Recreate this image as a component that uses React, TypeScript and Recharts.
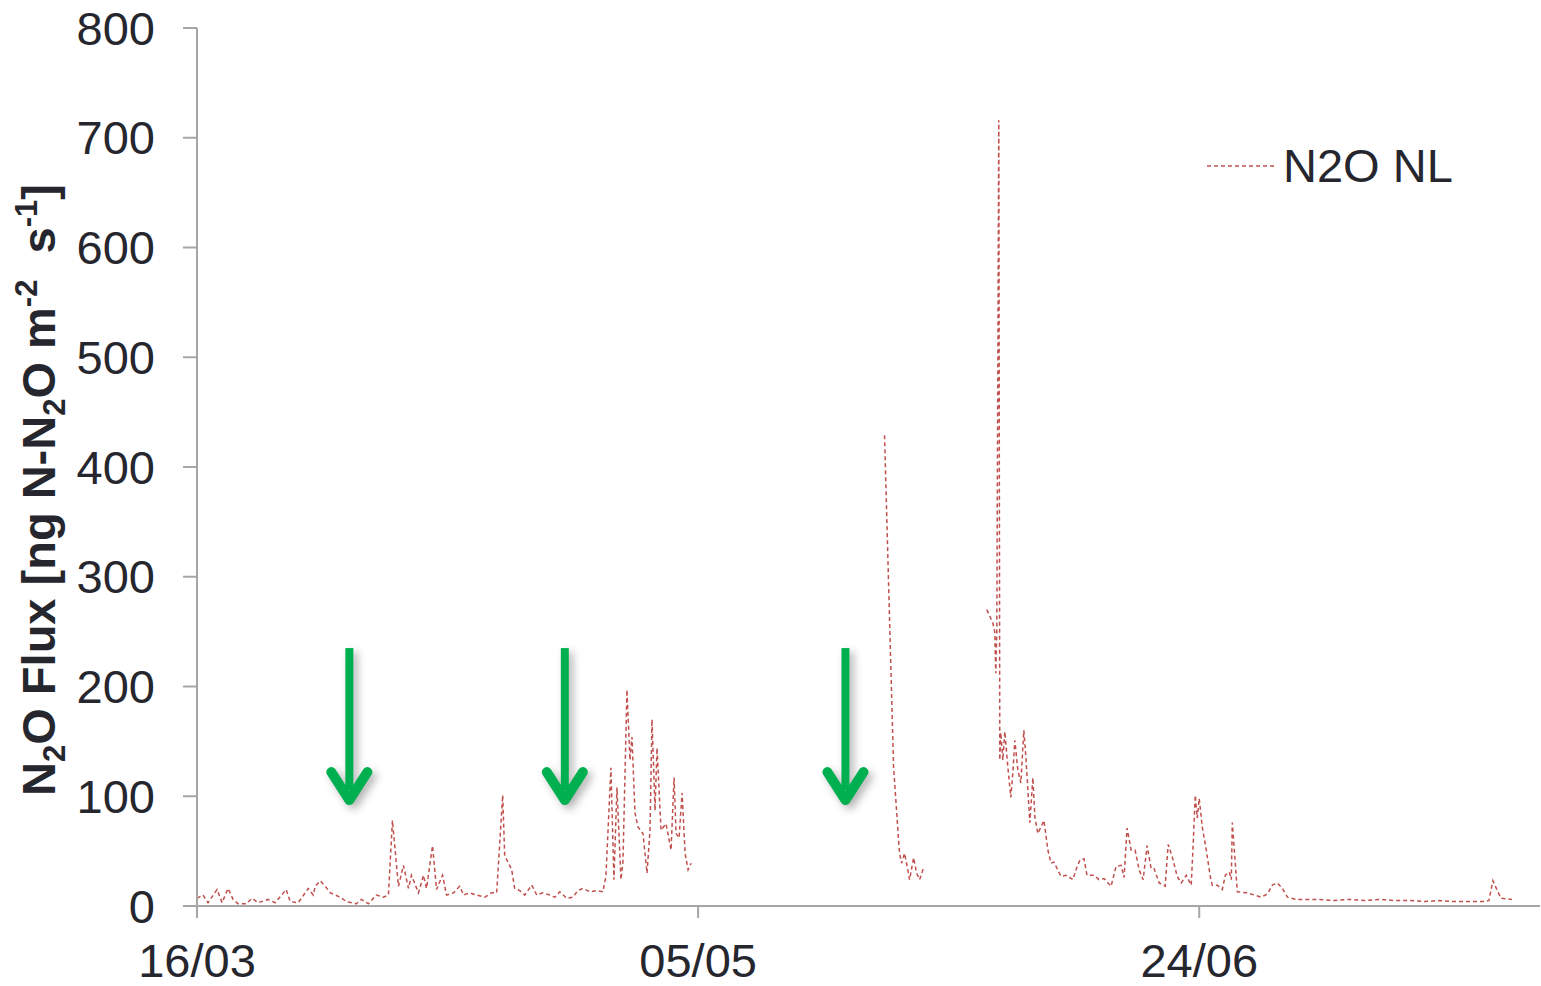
import { LineChart, Line, XAxis, YAxis, Legend, ReferenceDot } from "recharts";

// days after 16/03
const days = [
  0, 0.6, 1.1, 2.0, 2.5, 3.1, 3.6, 4.1, 4.9, 5.5, 6.1, 7.1, 7.8, 8.9, 9.3, 10.1, 11.1, 11.6, 11.8, 12.3,
  12.8, 13.3, 14.3, 14.9, 15.9, 16.4, 17.1, 17.9, 18.6, 19.1, 19.5, 20.1, 20.6, 21.1, 21.4, 22.1, 22.6, 22.9,
  23.5, 23.9, 24.5, 24.9, 25.6, 26.2, 26.6, 27.2, 27.9, 28.7, 29.4, 29.9, 30.5, 30.7, 31.4, 31.7, 32.2, 32.7,
  33.4, 33.9, 34.5, 35.2, 35.7, 36.2, 36.9, 37.5, 38.0, 38.5, 39.2, 39.9, 40.5, 40.8, 41.3, 41.6, 41.9, 42.3,
  42.5, 42.9, 43.2, 43.4, 43.7, 44.0, 44.5, 44.9, 45.2, 45.4, 45.7, 45.9, 46.3, 46.8, 47.3, 47.6, 47.8, 48.1,
  48.4, 48.7, 49.0, 49.3,
  59,
  68.6, 69.5, 70.0, 70.1, 70.3, 70.6, 70.9, 71.1, 71.5, 71.8, 72.1, 72.5,
  75,
  78.8, 79.4, 79.6, 79.7, 79.8, 80.0, 80.1, 80.2, 80.4, 80.6, 80.9, 81.2, 81.4, 81.6, 81.9, 82.2, 82.5, 82.7,
  83.1, 83.4, 83.6, 83.9, 84.5, 84.9, 85.2, 85.5, 86.2, 86.7, 87.4, 87.7, 88.1, 88.5, 88.8, 89.5, 90.0, 90.5,
  91.2, 91.7, 92.2, 92.5, 92.8, 93.2, 93.6, 94.0, 94.4, 94.8, 95.2, 95.5, 96.0, 96.6, 96.9, 97.3, 97.8, 98.2,
  98.7, 99.2, 99.4, 99.6, 99.8, 100.0, 100.3, 100.7, 101.1, 101.3, 101.8, 102.3, 102.6, 103.0, 103.2, 103.3,
  103.5, 103.8, 104.7, 105.5, 106.2, 106.8, 107.3, 107.8, 108.3, 108.8, 109.7, 110.5, 112, 113.5, 115, 116.5,
  118, 119.5, 121, 122.5, 124, 125.5, 127, 128.5, 128.9, 129.3, 129.6, 130.1, 131.2,
];

const flux = [
  7, 10, 3, 15, 3, 16, 6, 2, 2, 7, 3, 6, 3, 15, 4, 3, 16, 10, 18, 23,
  18, 12, 8, 4, 2, 6, 2, 10, 8, 10, 78, 18, 37, 16, 28, 12, 28, 16,
  55, 15, 28, 10, 12, 18, 10, 12, 10, 8, 12, 12, 101, 46, 33, 16, 14, 10,
  19, 10, 12, 10, 8, 13, 7, 8, 14, 16, 13, 14, 13, 27, 126, 24, 108, 24,
  40, 197, 133, 154, 85, 72, 66, 30, 69, 170, 87, 144, 69, 75, 51, 117, 66, 62,
  103, 48, 33, 39,
  null,
  429, 127, 60, 48, 39, 48, 34, 24, 44, 30, 24, 35,
  null,
  270, 258, 250, 212, 250, 716, 133, 158, 133, 159, 127, 99, 121, 151, 124, 112, 160, 136,
  76, 117, 81, 66, 78, 51, 39, 40, 27, 28, 24, 33, 42, 43, 28, 28, 24, 25,
  18, 36, 37, 26, 71, 51, 51, 33, 24, 55, 34, 34, 21, 18, 56, 45, 27, 21,
  28, 19, 57, 101, 80, 98, 72, 51, 27, 19, 19, 15, 28, 31, 24, 76,
  51, 13, 12, 10, 8, 11, 19, 21, 16, 8, 6, 6, 6, 5, 6, 5,
  6, 5, 5, 4, 5, 4, 4, 4, 5, 23, 17, 7, 6,
];

const xTickDays = [0, 50, 100];
const xTickLabels = ["16/03", "05/05", "24/06"];
const yTicks = [0, 100, 200, 300, 400, 500, 600, 700, 800];

// fertilisation events (arrows)
const arrowDays = [15.2, 36.7, 64.7];
const arrowTop = 235;

const data = days.map((d, i) => ({ day: d, flux: flux[i] }));

const AXIS = "#a6a6a6";
const TEXT = "#26262e";
const LINE = "#c0504d";
const FONT = "'Liberation Sans', Arial, sans-serif";

const Arrow = (props: any) => {
  const { cx, cy } = props;
  if (cx == null || cy == null) return null;
  return (
    <g style={{ filter: "drop-shadow(4px 4px 4px rgba(0,0,0,0.3))" }}>
      <rect x={cx - 4} y={cy} width={8} height={142} fill="#00b050" />
      <polyline
        points={`${cx - 18},${cy + 124} ${cx},${cy + 152} ${cx + 18},${cy + 124}`}
        fill="none"
        stroke="#00b050"
        strokeWidth={10}
        strokeLinecap="round"
        strokeLinejoin="round"
      />
    </g>
  );
};

const YLabel = () => (
  <text
    x={55}
    y={490}
    transform="rotate(-90, 55, 490)"
    textAnchor="middle"
    fill={TEXT}
    fontFamily={FONT}
    fontWeight="bold"
    fontSize={47}
    style={{ whiteSpace: "pre" }}
  >
    N
    <tspan dy={10} fontSize={31}>2</tspan>
    <tspan dy={-10}>O Flux [ng N-N</tspan>
    <tspan dy={10} fontSize={31}>2</tspan>
    <tspan dy={-10}>O m</tspan>
    <tspan dy={-18} fontSize={31}>-2</tspan>
    <tspan dy={18}>{"  s"}</tspan>
    <tspan dy={-18} fontSize={31}>-1</tspan>
    <tspan dy={18}>]</tspan>
  </text>
);

const LegendContent = () => (
  <div style={{ display: "flex", alignItems: "center", fontFamily: FONT, fontSize: 47, color: TEXT }}>
    <svg width={76} height={10}>
      <line x1={0} y1={5} x2={70} y2={5} stroke={LINE} strokeWidth={1.5} strokeDasharray="4 3" />
    </svg>
    <span style={{ marginLeft: 0 }}>N2O NL</span>
  </div>
);

export default function App() {
  return (
    <div style={{ width: 1541, height: 986, background: "#fff" }}>
      <style>{`body{margin:0}`}</style>
      <LineChart width={1541} height={986} data={data} margin={{ top: 28, right: 1, bottom: 0, left: 0 }}>
        <XAxis
          type="number"
          dataKey="day"
          domain={[0, 134]}
          ticks={xTickDays}
          tickFormatter={(v: number) => xTickLabels[xTickDays.indexOf(v)]}
          height={80}
          axisLine={{ stroke: AXIS, strokeWidth: 2 }}
          tickLine={{ stroke: AXIS, strokeWidth: 2 }}
          tickSize={12}
          tickMargin={26}
          tick={{ fill: TEXT, fontSize: 47, fontFamily: FONT }}
          allowDataOverflow
        />
        <YAxis
          type="number"
          domain={[0, 800]}
          ticks={yTicks}
          width={197}
          axisLine={{ stroke: AXIS, strokeWidth: 2 }}
          tickLine={{ stroke: AXIS, strokeWidth: 2 }}
          tickSize={14}
          tickMargin={28}
          tick={{ fill: TEXT, fontSize: 47, fontFamily: FONT }}
          label={{ content: () => <YLabel /> }}
        />
        <Legend
          verticalAlign="middle"
          align="center"
          content={() => <LegendContent />}
          wrapperStyle={{ position: "absolute", left: 1207, top: 138, width: 320, height: 60 }}
        />
        <Line
          type="linear"
          dataKey="flux"
          name="N2O NL"
          stroke={LINE}
          strokeWidth={1.5}
          strokeDasharray="4 3"
          dot={false}
          activeDot={false}
          connectNulls={false}
          isAnimationActive={false}
        />
        {arrowDays.map((d) => (
          <ReferenceDot key={d} x={d} y={arrowTop} r={0} ifOverflow="visible" shape={<Arrow />} />
        ))}
      </LineChart>
    </div>
  );
}
